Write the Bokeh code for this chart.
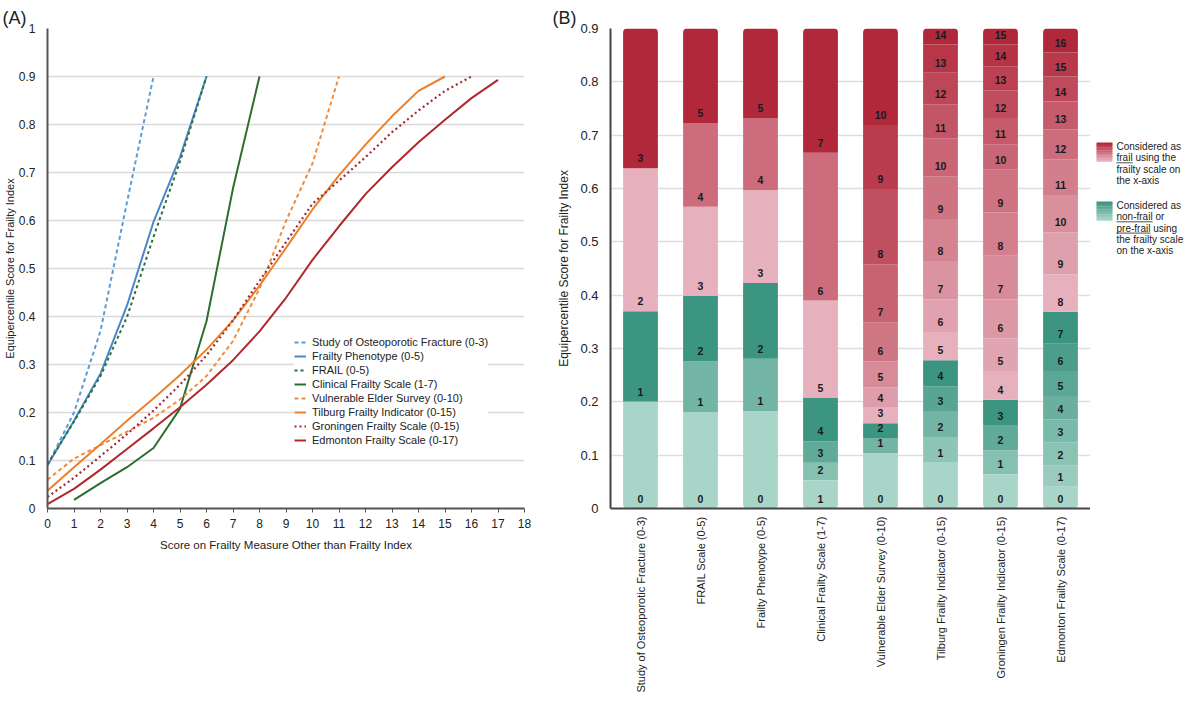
import math
from bokeh.plotting import figure
from bokeh.models import Range1d, FixedTicker, FactorRange, ColumnDataSource
from bokeh.layouts import row
from bokeh.embed import file_html
from bokeh.resources import INLINE
from bokeh.core.properties import value

FONT = "Liberation Sans"

# ---------------- data ----------------
# Panel A: equipercentile Frailty Index value at each score of the other scale
names_a = ["Study of Osteoporotic Fracture (0-3)", "Frailty Phenotype (0-5)", "FRAIL (0-5)",
           "Clinical Frailty Scale (1-7)", "Vulnerable Elder Survey (0-10)",
           "Tilburg Frailty Indicator (0-15)", "Groningen Frailty Scale (0-15)",
           "Edmonton Frailty Scale (0-17)"]
starts_a = [0, 0, 0, 1, 0, 0, 0, 0]
sof_eq = [0.090, 0.200, 0.370, 0.638, 0.900]
fp_eq = [0.090, 0.183, 0.281, 0.423, 0.597, 0.732, 0.900]
frail_eq = [0.092, 0.181, 0.276, 0.399, 0.566, 0.723, 0.900]
cfs_eq = [0.018, 0.053, 0.086, 0.126, 0.208, 0.390, 0.667, 0.900]
ves_eq = [0.060, 0.104, 0.132, 0.160, 0.189, 0.227, 0.276, 0.349, 0.458, 0.599, 0.719, 0.900]
tfi_eq = [0.037, 0.086, 0.134, 0.183, 0.229, 0.278, 0.331, 0.392, 0.464, 0.543, 0.623,
          0.694, 0.758, 0.817, 0.870, 0.900]
gfs_eq = [0.024, 0.064, 0.109, 0.155, 0.204, 0.258, 0.319, 0.392, 0.474, 0.555, 0.635,
          0.683, 0.732, 0.784, 0.829, 0.870, 0.900]
efs_eq = [0.009, 0.041, 0.081, 0.124, 0.167, 0.211, 0.258, 0.309, 0.369, 0.439, 0.518,
          0.588, 0.655, 0.711, 0.763, 0.810, 0.855, 0.893]
series_a = [sof_eq, fp_eq, frail_eq, cfs_eq, ves_eq, tfi_eq, gfs_eq, efs_eq]
colors_a = ["#5b9bd5", "#4a87c9", "#2f6f3a", "#2d6e2e", "#f08c3c", "#ec7f2a", "#9e2a32", "#b0282e"]
dashes_a = ["4 3", "solid", "3 3", "solid", "4 3", "solid", "2 3", "solid"]

# Panel B: same scales, different order
names_b = ["Study of Osteoporotic Fracture (0-3)", "FRAIL Scale (0-5)", "Frailty Phenotype (0-5)",
           "Clinical Frailty Scale (1-7)", "Vulnerable Elder Survey (0-10)",
           "Tilburg Frailty Indicator (0-15)", "Groningen Frailty Indicator (0-15)",
           "Edmonton Frailty Scale (0-17)"]
series_b = [sof_eq, frail_eq, fp_eq, cfs_eq, ves_eq, tfi_eq, gfs_eq, efs_eq]
starts_b = [0, 0, 0, 1, 0, 0, 0, 0]
frail_cut_b = [2, 3, 3, 5, 3, 5, 4, 8]   # first score considered "frail"
bar_top = 0.9

# ---------------- helpers ----------------
def mix(c1, c2, t):
    a = [int(c1[i:i + 2], 16) for i in (1, 3, 5)]
    b = [int(c2[i:i + 2], 16) for i in (1, 3, 5)]
    return "#" + "".join("%02x" % round(a[k] + (b[k] - a[k]) * t) for k in range(3))

TEAL_LIGHT, TEAL_DARK = "#a9d5c9", "#3c9580"
RED_LIGHT, RED_DARK = "#e6b1bd", "#b1283a"

def style_axis(ax, size):
    ax.major_label_text_font = FONT
    ax.major_label_text_font_size = size
    ax.major_label_text_color = "#222222"
    ax.axis_label_text_font = FONT
    ax.axis_label_text_font_style = "normal"
    ax.axis_label_text_color = "#222222"
    ax.minor_tick_line_color = None

def panel_title(p, text, offset):
    p.title.text = text
    p.title.text_font = FONT
    p.title.text_font_size = "18px"
    p.title.text_font_style = "normal"
    p.title.text_color = "#222222"
    p.title.align = "left"
    p.title.offset = offset
    p.title.standoff = 2

H = 698
TOP, BOTTOM = 28, 190

# ---------------- Panel A ----------------
pa = figure(width=545, height=H, min_border_left=45, min_border_right=21,
            min_border_top=TOP, min_border_bottom=BOTTOM, x_range=Range1d(0, 18),
            y_range=Range1d(0, 1), output_backend="svg", toolbar_location=None)
panel_title(pa, "(A)", -45)
pa.outline_line_color = None
pa.xgrid.grid_line_color = None
pa.ygrid.grid_line_color = "#d9d9d9"
pa.ygrid.grid_line_width = 1.5
pa.yaxis.ticker = FixedTicker(ticks=[i / 10 for i in range(11)])
pa.yaxis.major_label_overrides = {0: "0", 1: "1"}
pa.xaxis.ticker = FixedTicker(ticks=list(range(19)))
for ax in (pa.xaxis[0], pa.yaxis[0]):
    style_axis(ax, "12px")
    ax.axis_line_color = "#555555"
    ax.axis_line_width = 2
    ax.major_tick_line_color = "#555555"
    ax.major_tick_in = 0
pa.xaxis.major_tick_out = 4
pa.yaxis.major_tick_out = 0
pa.yaxis.major_label_standoff = 12
pa.xaxis.major_label_standoff = 6
pa.yaxis.axis_label = "Equipercentile Score for Frailty Index"
pa.yaxis.axis_label_text_font_size = "11px"
pa.yaxis.axis_label_standoff = 0
pa.xaxis.axis_label = "Score on Frailty Measure Other than Frailty Index"
pa.xaxis.axis_label_text_font_size = "11.5px"
pa.xaxis.axis_label_standoff = 8

for name, start, eq, col, dash in zip(names_a, starts_a, series_a, colors_a, dashes_a):
    xs = [start + k for k in range(len(eq))]
    pa.line(xs, eq, line_color=col, line_width=2.2 if dash == "2 3" else 2,
            line_dash=dash, legend_label=name)

lg = pa.legend[0]
lg.location = (247, 61)
lg.border_line_color = None
lg.background_fill_color = "white"
lg.background_fill_alpha = 1
lg.label_text_font = FONT
lg.label_text_font_size = "11px"
lg.label_text_color = "#222222"
lg.glyph_width = 12
lg.glyph_height = 14
lg.label_height = 14
lg.label_standoff = 6
lg.spacing = 0
lg.padding = 6
lg.margin = 0

# ---------------- Panel B ----------------
pb = figure(width=545, height=H, min_border_left=65, min_border_right=0,
            min_border_top=TOP, min_border_bottom=BOTTOM,
            x_range=FactorRange(factors=names_b), y_range=Range1d(0, 0.9),
            output_backend="svg", toolbar_location=None)
panel_title(pb, "(B)", -58)
pb.outline_line_color = None
pb.xgrid.grid_line_color = None
pb.ygrid.grid_line_color = "#dddddd"
pb.ygrid.grid_line_width = 1.5
pb.yaxis.ticker = FixedTicker(ticks=[i / 10 for i in range(10)])
pb.yaxis.major_label_overrides = {0: "0"}
for ax in (pb.xaxis[0], pb.yaxis[0]):
    ax.axis_line_color = "#444444"
    ax.axis_line_width = 2
    ax.major_tick_in = 0
    ax.major_tick_out = 0
style_axis(pb.yaxis[0], "13px")
style_axis(pb.xaxis[0], "11px")
pb.xaxis.major_label_orientation = math.pi / 2
pb.xaxis.major_label_standoff = 8
pb.yaxis.major_label_standoff = 12
pb.yaxis.axis_label = "Equipercentile Score for Frailty Index"
pb.yaxis.axis_label_text_font_size = "12px"
pb.yaxis.axis_label_standoff = 6

segs = {"mid": dict(x=[], bottom=[], top=[], color=[]),
        "low": dict(x=[], bottom=[], top=[], color=[]),
        "high": dict(x=[], bottom=[], top=[], color=[])}
lab = dict(x=[], y=[], text=[])
for name, start, eq, cut in zip(names_b, starts_b, series_b, frail_cut_b):
    n = len(eq) - 1
    n_green = cut - start
    n_red = n - n_green
    for j in range(n):
        score = start + j
        bottom = 0.0 if j == 0 else eq[j]
        top = bar_top if j == n - 1 else eq[j + 1]
        if score < cut:
            t = j / (n_green - 1) if n_green > 1 else 1.0
            col = mix(TEAL_LIGHT, TEAL_DARK, t)
        else:
            k = j - n_green
            t = k / (n_red - 1) if n_red > 1 else 1.0
            col = mix(RED_LIGHT, RED_DARK, t)
        key = "low" if j == 0 else ("high" if j == n - 1 else "mid")
        d = segs[key]
        d["x"].append(name)
        d["bottom"].append(bottom)
        d["top"].append(top)
        d["color"].append(col)
        lab["x"].append(name)
        lab["y"].append(bottom)
        lab["text"].append(str(score))

BW = 0.58
pb.vbar(x="x", bottom="bottom", top="top", width=BW, fill_color="color", line_color=None,
        source=ColumnDataSource(segs["mid"]))
pb.vbar(x="x", bottom="bottom", top="top", width=BW, fill_color="color", line_color=None,
        border_radius=(0, 0, 4, 4), source=ColumnDataSource(segs["low"]))
pb.vbar(x="x", bottom="bottom", top="top", width=BW, fill_color="color", line_color=None,
        border_radius=(4, 4, 0, 0), source=ColumnDataSource(segs["high"]))
pb.text(x="x", y="y", text="text", source=ColumnDataSource(lab), y_offset=-10,
        text_align="center", text_baseline="middle", text_font=value(FONT),
        text_font_style="bold", text_font_size="10.5px", text_color="#1a1a1a")

# ---------------- Legend for panel B (separate narrow figure) ----------------
LW = 94
pl = figure(width=LW, height=H, min_border_left=0, min_border_right=0,
            min_border_top=TOP, min_border_bottom=BOTTOM,
            x_range=Range1d(0, LW), y_range=Range1d(H - TOP - BOTTOM, 0),
            output_backend="svg", toolbar_location=None)
pl.axis.visible = False
pl.grid.visible = False
pl.outline_line_color = None

legend_entries = [
    ("red", [("Considered as", None), ("frail using the", "frail"),
             ("frailty scale on", None), ("the x-axis", None)]),
    ("teal", [("Considered as", None), ("non-frail or", "non-frail"),
              ("pre-frail using", "pre-frail"), ("the frailty scale", None),
              ("on the x-axis", None)]),
]
W = {"f": .278, "r": .333, "a": .556, "i": .222, "l": .222, "n": .556, "o": .556,
     "-": .333, "p": .556, "e": .556}
FS = 10
sw_x0, sw_x1, sw_h = 6, 22, 19
entry_top = [114, 173]
text_x = 26
line_gap = 11.3
for (kind, lines), top in zip(legend_entries, entry_top):
    light, dark = (RED_LIGHT, RED_DARK) if kind == "red" else (TEAL_LIGHT, TEAL_DARK)
    nb = 12
    bands_top = [top + sw_h * b / nb for b in range(nb)]
    pl.quad(left=sw_x0, right=sw_x1, top=bands_top, bottom=[t + sw_h / nb + 0.3 for t in bands_top],
            fill_color=[mix(dark, light, b / (nb - 1)) for b in range(nb)], line_color=None)
    for li, (txt, ul) in enumerate(lines):
        cy = top + 4 + li * line_gap
        pl.text(x=[text_x], y=[cy], text=[txt], text_align="left", text_baseline="middle",
                text_font=value(FONT), text_font_size="%dpx" % FS, text_color="#222222")
        if ul:
            wpx = sum(W[c] for c in ul) * FS
            pl.segment(x0=[text_x], y0=[cy + 5], x1=[text_x + wpx], y1=[cy + 5],
                       line_color="#222222", line_width=0.8)

layout = row(pa, pb, pl)
open("out.html", "w").write(file_html(layout, INLINE))
